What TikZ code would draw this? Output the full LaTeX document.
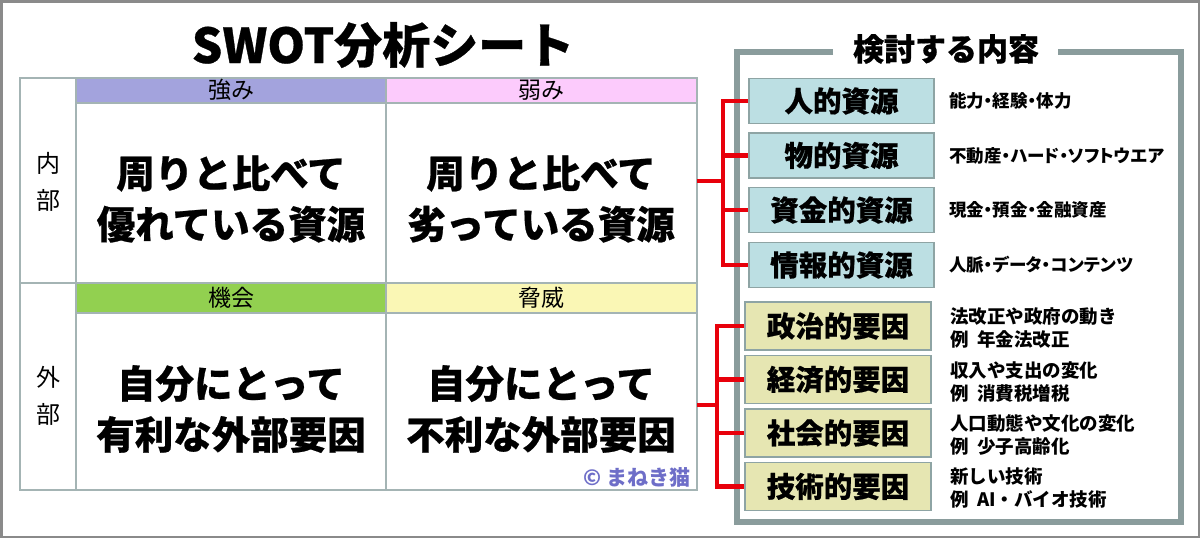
\documentclass[tikz,border=0pt]{standalone}
\usepackage{fontspec}
\setmainfont{Noto Sans CJK JP}
\newfontfamily\heavy{Noto Sans CJK JP}[BoldFeatures={FakeBold=0.6}]
\newfontfamily\pjp{Noto Sans CJK JP}[RawFeature=+palt]
\definecolor{purpleh}{HTML}{A3A3DD}
\definecolor{pinkh}{HTML}{FCCBFC}
\definecolor{greenh}{HTML}{92D050}
\definecolor{yellowh}{HTML}{FAF7B5}
\definecolor{tblc}{HTML}{A4B4B4}
\definecolor{bluef}{HTML}{BCDFE3}
\definecolor{yelf}{HTML}{E6E6B2}
\definecolor{boxb}{HTML}{8EA4A4}
\definecolor{framec}{HTML}{8A9C9C}
\definecolor{redc}{HTML}{E8000B}
\definecolor{wm}{HTML}{6E6EC8}
\definecolor{outerc}{HTML}{8A8A8A}
\begin{document}
\begin{tikzpicture}[x=1pt,y=-1pt,
 tline/.style={draw=tblc, line width=1.6pt},
 hdr/.style={font=\fontsize{23}{24}\selectfont, inner sep=0},
 big/.style={font=\heavy\bfseries\fontsize{38.5}{51}\selectfont, align=center, inner sep=0},
 side/.style={font=\fontsize{24}{37}\selectfont, align=center, inner sep=0},
 rbox/.style={draw=boxb, line width=1.2pt, fill=bluef, minimum width=185pt, minimum height=45pt, font=\heavy\bfseries\fontsize{28.5}{30}\selectfont, inner sep=0},
 ybox/.style={draw=boxb, line width=1.2pt, fill=yelf, minimum width=186pt, minimum height=48pt, font=\heavy\bfseries\fontsize{28.5}{30}\selectfont, inner sep=0},
 desc/.style={anchor=west, font=\pjp\bfseries\fontsize{17.5}{23}\selectfont, align=left, inner sep=0},
 desc2/.style={anchor=west, font=\bfseries\fontsize{18.5}{23}\selectfont, align=left, inner sep=0},
 redl/.style={draw=redc, line width=4.5pt},
 framel/.style={draw=framec, line width=6pt}
]
\useasboundingbox (0,0) rectangle (1200,538);
\fill[white] (0,0) rectangle (1200,538);
\draw[outerc, line width=2.5pt] (1.25,1.25) rectangle (1198.75,536.75);

% title
\node[font=\heavy\bfseries\fontsize{48}{50}\selectfont, inner sep=0] (title) at (383,45) {SWOT分析シート};

% table header fills
\fill[purpleh] (76,78) rectangle (386,103);
\fill[pinkh] (386,78) rectangle (697,103);
\fill[greenh] (76,283) rectangle (386,313);
\fill[yellowh] (386,283) rectangle (697,313);
% table lines
\draw[tline] (20,78) rectangle (697,490);
\draw[tline] (76,78) -- (76,490);
\draw[tline] (386,78) -- (386,490);
\draw[tline] (76,103) -- (697,103);
\draw[tline] (20,283) -- (697,283);
\draw[tline] (76,313) -- (697,313);

% headers
\node[hdr] (s) at (231,90) {強み};
\node[hdr] (w) at (541,90) {弱み};
\node[hdr] (o) at (231,298) {機会};
\node[hdr] (t) at (541,298) {脅威};
% side labels
\node[side] (in) at (48,182) {内\\部};
\node[side] (ex) at (48,396) {外\\部};
% body
\node[big] (sb) at (231,199) {周りと比べて\\優れている資源};
\node[big] (wb) at (541,199) {周りと比べて\\劣っている資源};
\node[big] (ob) at (231,409) {自分にとって\\有利な外部要因};
\node[big] (tb) at (541,409) {自分にとって\\不利な外部要因};
\node[font=\bfseries\fontsize{21}{22}\selectfont, text=wm, anchor=east, inner sep=0] (cr) at (691,477) {© まねき猫};

% right frame
\draw[framel] (833,52) -- (737,52) -- (737,522) -- (1181,522) -- (1181,52) -- (1058,52);
\node[font=\heavy\bfseries\fontsize{31}{33}\selectfont, inner sep=0] (ft) at (946,49) {検討する内容};

% resource boxes
\node[rbox] (r1) at (841.5,101) {人的資源};
\node[rbox] (r2) at (841.5,155.5) {物的資源};
\node[rbox] (r3) at (841.5,210) {資金的資源};
\node[rbox] (r4) at (841.5,265) {情報的資源};
\node[desc] (d1) at (949,101) {能力・経験・体力};
\node[desc] (d2) at (949,155.5) {不動産・ハード・ソフトウエア};
\node[desc] (d3) at (949,210) {現金・預金・金融資産};
\node[desc] (d4) at (949,265) {人脈・データ・コンテンツ};

% factor boxes
\node[ybox] (f1) at (838,326) {政治的要因};
\node[ybox] (f2) at (838,379.5) {経済的要因};
\node[ybox] (f3) at (838,433) {社会的要因};
\node[ybox] (f4) at (838,486.5) {技術的要因};
\node[desc2] (e1) at (950,328) {法改正や政府の動き\\例\hspace{0.45em}年金法改正};
\node[desc2] (e2) at (950,382) {収入や支出の変化\\例\hspace{0.45em}消費税増税};
\node[desc2] (e3) at (950,435) {人口動態や文化の変化\\例\hspace{0.45em}少子高齢化};
\node[desc2] (e4) at (950,488) {新しい技術\\例\hspace{0.45em}AI・バイオ技術};

% red brackets
\coordinate (sa) at (697,181);
\coordinate (ja) at (723,181);
\coordinate (sbb) at (697,405);
\coordinate (jb) at (717,405);
\draw[redl] (r1.west) -- (ja|-r1.west) -- (ja|-r4.west) -- (r4.west);
\draw[redl] (ja|-r2.west) -- (r2.west);
\draw[redl] (ja|-r3.west) -- (r3.west);
\draw[redl] (sa) -- (ja);
\draw[redl] (f1.west) -- (jb|-f1.west) -- (jb|-f4.west) -- (f4.west);
\draw[redl] (jb|-f2.west) -- (f2.west);
\draw[redl] (jb|-f3.west) -- (f3.west);
\draw[redl] (sbb) -- (jb);
\end{tikzpicture}
\end{document}
